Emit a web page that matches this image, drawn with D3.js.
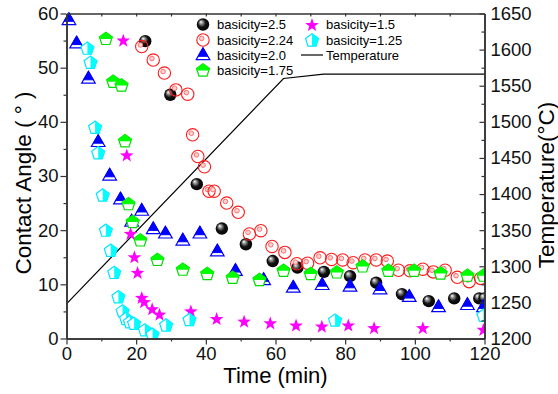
<!DOCTYPE html>
<html>
<head>
<meta charset="utf-8">
<title>Contact angle vs time</title>
<script src="https://d3js.org/d3.v7.min.js"></script>
<style>
  body { margin: 0; background: #fff; }
  text { font-family: "Liberation Sans", Arial, sans-serif; }
</style>
</head>
<body>
<svg id="chart" width="558" height="394"></svg>
<script>
// data: [time (min), contact angle (deg)]
var b25 = [[22.6,54.9],[29.8,45.0],[37.4,28.5],[44.6,20.3],[51.5,17.4],[59.2,14.3],[66.3,13.1],[73.9,12.3],
  [81.4,11.5],[88.9,10.3],[96.3,8.2],[104,6.9],[111.3,7.4],[118.5,7.4],[120,7.4]]
var b224 = [[21.6,53.9],[24.9,51.4],[28.1,49.0],[31.4,45.9],[34.8,45.1],[36.2,37.6],[37.7,33.6],[39.6,31.7],
  [40.9,27.2],[42.4,27.2],[46.0,25.0],[49.3,23.3],[52.5,19.3],[55.8,19.9],[59.0,17.0],[62.7,15.9],[66.1,13.8],
  [69.2,13.9],[72.8,14.9],[76.1,14.6],[79.3,14.5],[82.3,14.0],[85.7,14.5],[88.9,14.5],[92.1,14.3],[95.3,12.6],
  [98.6,12.5],[102.3,12.8],[105.3,12.3],[108.7,12.6],[112.2,11.3],[115.6,10.5],[118.9,11.1]]
var b20 = [[0.7,58.8],[2.9,54.5],[6.3,48.0],[9.1,36.3],[12.4,30.1],[15.5,25.7],[18.7,21.6],[21.6,23.6],
  [24.9,20.2],[28.4,19.4],[33.4,18.1],[38.3,19.4],[43.3,16.1],[48.5,12.5],[56.6,10.8],[65.1,9.4],[73.4,9.9],
  [81.4,9.6],[90.0,9.1],[98.4,7.7],[106.8,5.8],[115.1,6.2],[119.7,5.8]]
var b175 = [[11.3,55.4],[13.4,47.5],[15.8,46.8],[16.8,36.5],[17.8,24.9],[19.0,21.6],[21.2,18.2],[26.1,14.6],
  [33.4,12.8],[40.4,12.0],[47.7,11.3],[55.4,10.9],[62.3,12.6],[70.1,12.0],[77.6,12.3],[85.0,13.4],[92.4,12.6],
  [99.8,12.6],[107.4,12.1],[115.1,11.7],[119.7,11.7]]
var b15 = [[16.3,55.1],[17.3,33.9],[18.4,19.4],[19.5,15.1],[20.4,12.2],[21.6,7.6],[22.3,6.8],[24.6,5.5],
  [26.7,4.5],[35.7,5.1],[43.1,3.7],[51.0,3.2],[58.5,2.9],[65.9,2.5],[73.3,2.3],[80.9,2.5],[88.3,2.0],
  [102.3,2.0],[119.7,1.7]]
var b125 = [[6.0,53.6],[6.9,51.0],[8.2,39.0],[9.1,34.3],[10.4,26.5],[11.3,20.0],[12.7,16.3],[13.7,12.2],
  [14.9,7.7],[16.1,5.1],[17.1,3.7],[18.2,3.1],[19.4,2.8],[22.5,1.6],[24.7,0.8],[28.6,2.5],[35.3,3.5],
  [77.1,3.4],[119.7,4.3]]

// temperature program
var tempTime = [0, 62.3, 73.8, 120]
var tempVal = [1248, 1560, 1566, 1566]

var angleTicks = [0, 10, 20, 30, 40, 50, 60]
var timeTicks = [0, 20, 40, 60, 80, 100, 120]
var tempTicks = [1200, 1250, 1300, 1350, 1400, 1450, 1500, 1550, 1600, 1650]

// plot frame (top is a reserved window prop, so prefix these)
var pL = 66.5, pR = 484.5, pT = 13.5, pB = 338.5

var svg = d3.select("#chart")

var x = d3.scaleLinear().domain([0, 120]).range([pL, pR])
var y = d3.scaleLinear().domain([0, 60]).range([pB, pT])
var yT = d3.scaleLinear().domain([1200, 1650]).range([pB, pT])

var defs = svg.append("defs")
var grad = defs.append("radialGradient").attr("id", "ball")
  .attr("cx", "48%").attr("cy", "48%").attr("r", "58%").attr("fx", "32%").attr("fy", "28%")
grad.append("stop").attr("offset", "0%").attr("stop-color", "#ffffff")
grad.append("stop").attr("offset", "22%").attr("stop-color", "#999")
grad.append("stop").attr("offset", "55%").attr("stop-color", "#111")
grad.append("stop").attr("offset", "100%").attr("stop-color", "#000")
defs.append("clipPath").attr("id", "topHalf").append("rect")
  .attr("x", -10).attr("y", -10).attr("width", 20).attr("height", 10.5)
defs.append("clipPath").attr("id", "rightHalf").append("rect")
  .attr("x", 0).attr("y", -10).attr("width", 10).attr("height", 20)
defs.append("clipPath").attr("id", "plotArea").append("rect")
  .attr("x", pL - 8).attr("y", pT - 8).attr("width", pR - pL + 8).attr("height", pB - pT + 8)

// axes
function styleAxis(g) {
  g.selectAll("path.domain").attr("stroke", "#333").attr("stroke-width", 1.5)
  g.selectAll(".tick line").attr("stroke", "#333").attr("stroke-width", 1.2)
  g.selectAll(".tick text").attr("font-size", 18.5).attr("fill", "#111")
    .style("font-family", "'Liberation Sans', Arial, sans-serif")
}
var minor5 = d3.range(5, 60, 10)
var minor10 = d3.range(10, 120, 20)
var minor25 = d3.range(1225, 1650, 50)

// temperature line
var tempData = tempTime.map(function(t, i) { return [t, tempVal[i]] })
svg.append("path").datum(tempData)
  .attr("d", d3.line().x(function(d) { return x(d[0]) }).y(function(d) { return yT(d[1]) }))
  .attr("fill", "none").attr("stroke", "#000").attr("stroke-width", 1.2)

// marker painters
var pent = d3.range(5).map(function(i) {
  var a = -Math.PI / 2 + i * 2 * Math.PI / 5
  return [6.8 * Math.cos(a), 6.8 * Math.sin(a) + 0.6]
})
var pentPath = "M" + pent.join("L") + "Z"
var star = d3.range(10).map(function(i) {
  var a = -Math.PI / 2 + i * Math.PI / 5, r = i % 2 ? 2.9 : 7.2
  return [r * Math.cos(a), r * Math.sin(a) + 0.8]
})
var starPath = "M" + star.join("L") + "Z"

function ball(g) {
  g.append("circle").attr("r", 6.2).attr("fill", "url(#ball)")
}
function ring(g) {
  g.append("circle").attr("r", 6.2).attr("fill", "none").attr("stroke", "#ff1a1a").attr("stroke-width", 1.1)
  g.append("circle").attr("cx", -1.3).attr("cy", -1.6).attr("r", 2.3)
    .attr("fill", "#ffd0d0").attr("stroke", "#ff7070").attr("stroke-width", 1)
}
function tri(g) {
  g.append("path").attr("d", "M0,-7.2L6.8,4.6L-6.8,4.6Z").attr("fill", "#fff")
    .attr("stroke", "#0000ff").attr("stroke-width", 1.2)
  g.append("path").attr("d", "M0,-7.2L4.9,1.3L-4.9,1.3Z").attr("fill", "#0000ff").attr("stroke", "#0000ff")
}
function greenPent(g) {
  g.append("path").attr("d", pentPath).attr("fill", "#fff").attr("stroke", "#00dd00").attr("stroke-width", 1.2)
  g.append("path").attr("d", pentPath).attr("fill", "#00ff00").attr("clip-path", "url(#topHalf)")
}
function starM(g) {
  g.append("path").attr("d", starPath).attr("fill", "#ff00ff")
}
function cyanPent(g) {
  g.append("path").attr("d", pentPath).attr("fill", "#fff").attr("stroke", "#00e5ff").attr("stroke-width", 1.2)
  g.append("path").attr("d", pentPath).attr("fill", "#00ffff").attr("clip-path", "url(#rightHalf)")
}

var series = [
  { name: "basicity=2.5", data: b25, draw: ball },
  { name: "basicity=2.24", data: b224, draw: ring },
  { name: "basicity=2.0", data: b20, draw: tri },
  { name: "basicity=1.75", data: b175, draw: greenPent },
  { name: "basicity=1.5", data: b15, draw: starM },
  { name: "basicity=1.25", data: b125, draw: cyanPent }
]

var marks = svg.append("g").attr("clip-path", "url(#plotArea)")
series.forEach(function(s) {
  marks.append("g").selectAll("g").data(s.data).enter().append("g")
    .attr("transform", function(d) { return "translate(" + x(d[0]) + "," + y(d[1]) + ")" })
    .each(function() { s.draw(d3.select(this)) })
})

// axes on top of the marks
svg.append("g").attr("transform", "translate(" + pL + ",0)")
  .call(d3.axisLeft(y).tickValues(minor5).tickSize(3).tickFormat("").tickSizeOuter(0)).call(styleAxis)
svg.append("g").attr("transform", "translate(" + pL + ",0)")
  .call(d3.axisLeft(y).tickValues(angleTicks).tickSize(6).tickPadding(2).tickSizeOuter(0)).call(styleAxis)

svg.append("g").attr("transform", "translate(0," + pB + ")")
  .call(d3.axisBottom(x).tickValues(minor10).tickSize(3).tickFormat("").tickSizeOuter(0)).call(styleAxis)
svg.append("g").attr("transform", "translate(0," + pB + ")")
  .call(d3.axisBottom(x).tickValues(timeTicks).tickSize(6).tickPadding(2).tickSizeOuter(0)).call(styleAxis)

svg.append("g").attr("transform", "translate(0," + pT + ")")
  .call(d3.axisTop(x).tickValues(d3.range(10, 120, 10)).tickSize(-3).tickFormat("").tickSizeOuter(0)).call(styleAxis)

svg.append("g").attr("transform", "translate(" + pR + ",0)")
  .call(d3.axisRight(yT).tickValues(minor25).tickSize(-3).tickFormat("").tickSizeOuter(0)).call(styleAxis)
var rAx = svg.append("g").attr("transform", "translate(" + pR + ",0)")
  .call(d3.axisRight(yT).tickValues(tempTicks).tickSize(-5).tickFormat(d3.format("d")).tickSizeOuter(0)).call(styleAxis)
rAx.selectAll(".tick text").attr("x", 6)

// axis titles
svg.append("text").attr("x", 275.5).attr("y", 383).attr("text-anchor", "middle")
  .attr("font-size", 22).text("Time (min)")
svg.append("text").attr("transform", "translate(31,183)rotate(-90)").attr("text-anchor", "middle")
  .attr("font-size", 22.5).text("Contact Angle ( ° )")
svg.append("text").attr("transform", "translate(554,185)rotate(-90)").attr("text-anchor", "middle")
  .attr("font-size", 22.5).text("Temperature(°C)")

// legend
var legPos = [[203, 24.5], [203, 40], [203, 55], [203, 70], [312, 24.5], [312, 40]]
series.forEach(function(s, i) {
  var g = svg.append("g").attr("transform", "translate(" + legPos[i][0] + "," + legPos[i][1] + ")")
  s.draw(g)
  g.append("text").attr("x", 14).attr("y", 4.5).attr("font-size", 13).text(s.name)
})
var lg = svg.append("g").attr("transform", "translate(312,55)")
lg.append("line").attr("x1", -11).attr("x2", 11).attr("stroke", "#000").attr("stroke-width", 1.2)
lg.append("text").attr("x", 14).attr("y", 4.5).attr("font-size", 13).text("Temperature")
</script>
</body>
</html>
